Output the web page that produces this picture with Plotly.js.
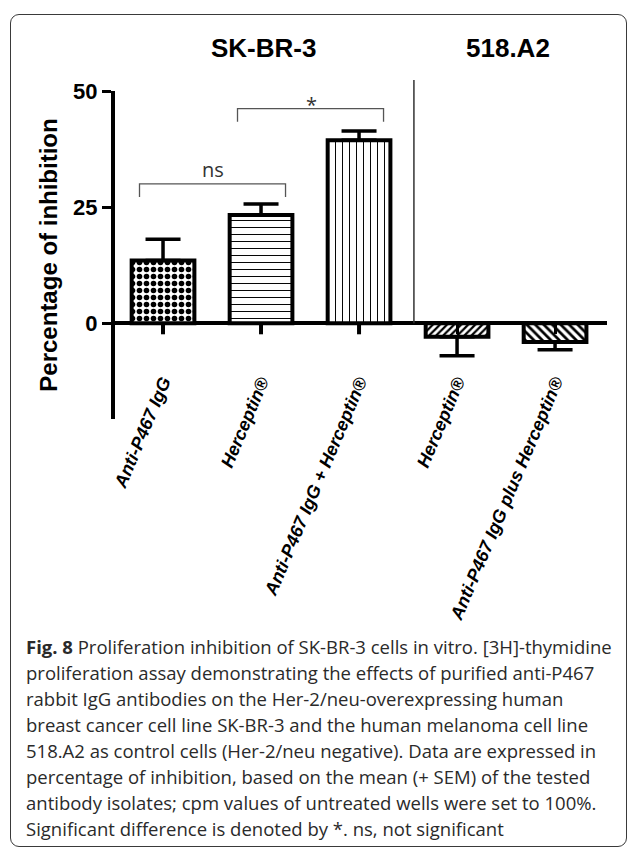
<!DOCTYPE html>
<html>
<head>
<meta charset="utf-8">
<script src="https://cdn.plot.ly/plotly-3.0.1.min.js"></script>
<style>
html,body{margin:0;padding:0;background:#fff;}
#wrap{position:relative;width:629px;height:849px;overflow:hidden;}
#chart{position:absolute;left:0;top:0;width:629px;height:849px;}
#frame{position:absolute;left:10px;top:14px;width:617px;height:833px;box-sizing:border-box;border:1.5px solid #3a3a3a;border-radius:9px;pointer-events:none;}
</style>
</head>
<body>
<div id="wrap"><div id="chart"></div><div id="frame"></div></div>
<script>
// ---- data ----
const categories = ['Anti-P467 IgG', 'Herceptin®', 'Anti-P467 IgG + Herceptin®', 'Herceptin®', 'Anti-P467 IgG plus Herceptin®'];
const inhibition = [13.5, 23.3, 39.4, -2.9, -4.0];
const semPlus = [4.6, 2.4, 2.0, 0, 0];
const semMinus = [0, 0, 0, 4.1, 1.7];
const patternShapes = ['.', '-', '|', '/', '\\'];
const groupNames = ['SK-BR-3', '518.A2'];
const groupMembers = [[0, 1, 2], [3, 4]];
const comparisons = [
  {from: 0, to: 1, level: 30.0, label: 'ns'},
  {from: 1, to: 2, level: 46.2, label: '*'}
];
const yTicks = [0, 25, 50];
const captionLines = [
  '<b>Fig. 8</b> Proliferation inhibition of SK-BR-3 cells in vitro. [3H]-thymidine',
  'proliferation assay demonstrating the effects of purified anti-P467',
  'rabbit IgG antibodies on the Her-2/neu-overexpressing human',
  'breast cancer cell line SK-BR-3 and the human melanoma cell line',
  '518.A2 as control cells (Her-2/neu negative). Data are expressed in',
  'percentage of inhibition, based on the mean (+ SEM) of the tested',
  'antibody isolates; cpm values of untreated wells were set to 100%.',
  'Significant difference is denoted by *. ns, not significant'
];

// ---- layout geometry ----
const W = 629, H = 849;
const M = {l: 115, r: 22, t: 91, b: 430};
const yRange = [-20.6, 50];
const xRange = [-0.49, 4.53];
const plotW = W - M.l - M.r, plotH = H - M.t - M.b;
const pyFrac = px => (H - M.b - px) / plotH;
const pxFrac = px => (px - M.l) / plotW;
const zeroFrac = (0 - yRange[0]) / (yRange[1] - yRange[0]);
const xs = categories.map((c, i) => i);
const ARIAL = 'Liberation Sans, Arial, Helvetica, sans-serif';
const CAP = 'Open Sans, Noto Sans, sans-serif';

const trace = {
  type: 'bar', x: xs, y: inhibition, width: 0.64,
  marker: {
    color: 'white',
    line: {color: 'black', width: 4},
    pattern: {shape: patternShapes, size: [7, 7, 7, 5, 6], solidity: [0.5, 0.14, 0.14, 0.45, 0.45],
              fgcolor: 'black', bgcolor: 'white', fillmode: 'replace'}
  },
  error_y: {type: 'data', symmetric: false, array: semPlus, arrayminus: semMinus,
            color: 'black', thickness: 3.5, width: 17.5},
  hoverinfo: 'skip', showlegend: false
};

const shapes = [];
// category ticks hanging below the zero line
xs.forEach(x => {
  shapes.push({type: 'line', xref: 'x', yref: 'paper', layer: 'below',
    x0: x, x1: x, y0: zeroFrac, y1: zeroFrac - 11 / plotH,
    line: {color: 'black', width: 4}});
});
// divider between cell lines
const divX = (groupMembers[0][groupMembers[0].length - 1] + groupMembers[1][0]) / 2 + 0.06;
shapes.push({type: 'line', xref: 'x', yref: 'paper',
  x0: divX, x1: divX, y0: zeroFrac, y1: pyFrac(80), line: {color: '#333', width: 1.5}});
// significance brackets
comparisons.forEach(c => {
  const x0 = c.from - 0.24, x1 = c.to + 0.25, leg = c.level - 2.8;
  shapes.push({type: 'path', xref: 'x', yref: 'y',
    path: `M ${x0},${leg} L ${x0},${c.level} L ${x1},${c.level} L ${x1},${leg}`,
    line: {color: '#555', width: 1.3}});
});

const annotations = [];
groupNames.forEach((g, i) => {
  const mem = groupMembers[i];
  const cx = mem.reduce((a, b) => a + b, 0) / mem.length;
  annotations.push({xref: 'x', yref: 'paper', x: cx, y: pyFrac(48), xshift: 2,
    text: g, showarrow: false, xanchor: 'center', yanchor: 'middle',
    font: {family: ARIAL, size: 26, weight: 'bold', color: 'black'}});
});
comparisons.forEach(c => {
  annotations.push({xref: 'x', yref: 'y', x: (c.from + c.to) / 2 + 0.01, y: c.level,
    text: c.label, showarrow: false, xanchor: 'center', yanchor: 'bottom',
    yshift: c.label === '*' ? -11 : -1,
    font: {family: CAP, size: 20, color: '#333'}});
});
captionLines.forEach((t, i) => {
  const base = 652 + 26 * i;
  annotations.push({xref: 'paper', yref: 'paper', x: pxFrac(24), y: pyFrac(base - 5.5),
    text: t, showarrow: false, xanchor: 'left', yanchor: 'middle', align: 'left',
    font: {family: CAP, size: 18.5, color: '#2a2a2a'}});
});

const layout = {
  width: W, height: H, margin: M,
  paper_bgcolor: 'white', plot_bgcolor: 'white',
  showlegend: false, bargap: 0,
  xaxis: {range: xRange, anchor: 'free', position: zeroFrac, showline: false, zeroline: false,
    showgrid: false, tickmode: 'array', tickvals: xs, ticktext: categories,
    ticks: 'outside', ticklen: 10, tickwidth: 3, tickcolor: 'black', tickangle: -67,
    ticklabelstandoff: 30, automargin: false, fixedrange: true,
    tickfont: {family: ARIAL, size: 18, weight: 'bold', style: 'italic', color: 'black'}},
  yaxis: {range: yRange, showline: true, linewidth: 4, linecolor: 'black',
    zeroline: true, zerolinewidth: 4, zerolinecolor: 'black', showgrid: false,
    tickmode: 'array', tickvals: yTicks, ticks: 'outside', ticklen: 9, tickwidth: 3, tickcolor: 'black',
    automargin: false, fixedrange: true,
    tickfont: {family: ARIAL, size: 22, weight: 'bold', color: 'black'},
    title: {text: 'Percentage of inhibition', standoff: 10,
      font: {family: ARIAL, size: 24, weight: 'bold', color: 'black'}}},
  shapes: shapes,
  annotations: annotations
};

Plotly.newPlot('chart', [trace], layout, {staticPlot: true, displayModeBar: false});
</script>
</body>
</html>
